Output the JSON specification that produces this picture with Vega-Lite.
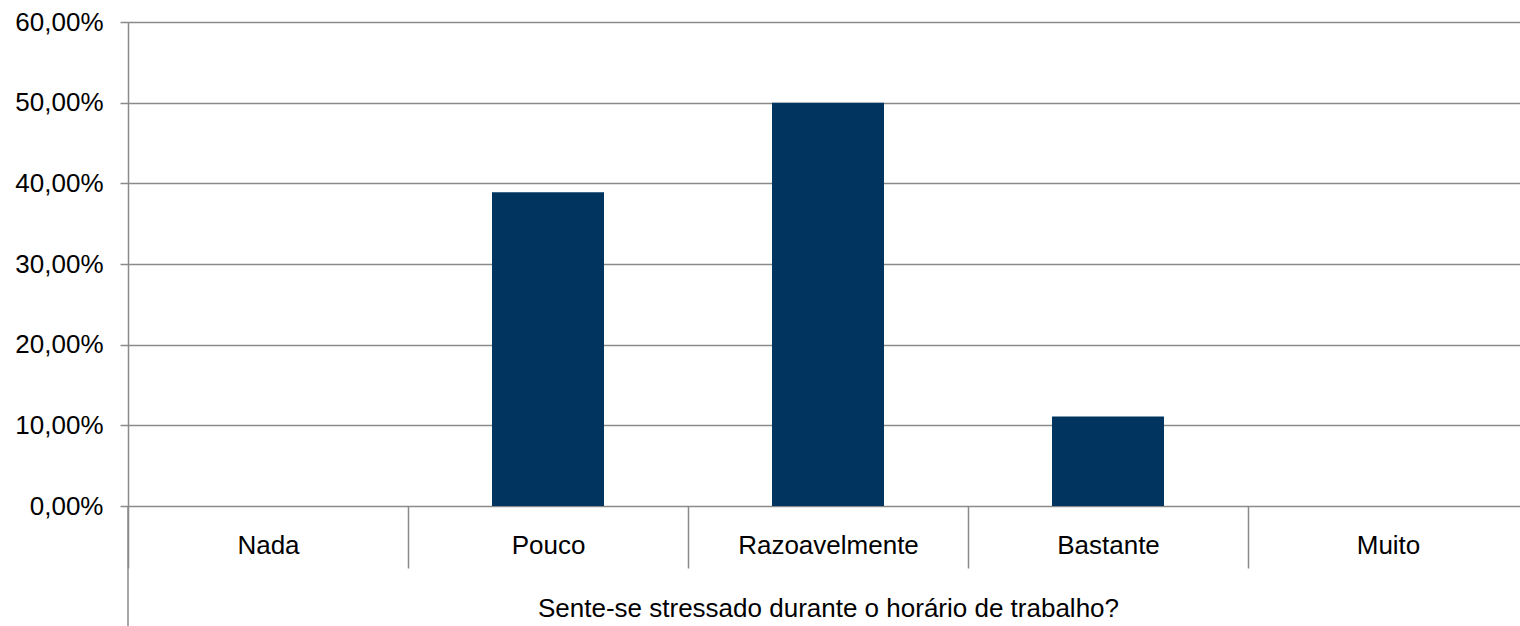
{
  "$schema": "https://vega.github.io/schema/vega-lite/v6.json",
  "width": 1400,
  "height": 484,
  "autosize": {"type": "none"},
  "padding": {"left": 128, "top": 22, "right": 0, "bottom": 120},
  "background": "white",
  "config": {
    "view": {"stroke": null},
    "font": "Liberation Sans"
  },
  "datasets": {
    "bars": [
      {"cat": "Nada", "pct": 0},
      {"cat": "Pouco", "pct": 0.3889},
      {"cat": "Razoavelmente", "pct": 0.5},
      {"cat": "Bastante", "pct": 0.1111},
      {"cat": "Muito", "pct": 0}
    ],
    "edge": [
      {"cat": "Nada", "top": 0, "bottom": -0.16}
    ]
  },
  "layer": [
    {
      "data": {"name": "bars"},
      "mark": {"type": "bar", "width": {"band": 0.4}, "color": "#01345F"},
      "encoding": {
        "x": {
          "field": "cat",
          "type": "nominal",
          "sort": null,
          "scale": {"paddingInner": 0, "paddingOuter": 0},
          "axis": {
            "title": "Sente-se stressado durante o horário de trabalho?",
            "titleFont": "Liberation Sans",
            "titleFontSize": 26,
            "titleFontWeight": "normal",
            "titleColor": "#000000",
            "titleBaseline": "alphabetic",
            "titleY": 110,
            "titleLimit": 1000,
            "labelFont": "Liberation Sans",
            "labelFontSize": 26,
            "labelColor": "#000000",
            "labelAngle": 0,
            "labelBaseline": "alphabetic",
            "labelPadding": -15,
            "labelLimit": 400,
            "tickBand": "extent",
            "tickSize": 62,
            "tickColor": "#8a8a8a",
            "tickWidth": 1.5,
            "domain": false,
            "grid": false
          }
        },
        "y": {
          "field": "pct",
          "type": "quantitative",
          "scale": {"domain": [0, 0.6], "nice": false},
          "axis": {
            "title": null,
            "values": [0, 0.1, 0.2, 0.3, 0.4, 0.5, 0.6],
            "format": ".2%",
            "labelExpr": "replace(datum.label, '.', ',')",
            "labelFont": "Liberation Sans",
            "labelFontSize": 26,
            "labelColor": "#000000",
            "labelPadding": 17,
            "labelLimit": 300,
            "tickSize": 8,
            "tickColor": "#8a8a8a",
            "tickWidth": 1.5,
            "domainColor": "#8a8a8a",
            "domainWidth": 1.5,
            "grid": true,
            "gridColor": "#8a8a8a",
            "gridWidth": 1.5
          }
        }
      }
    },
    {
      "data": {"name": "edge"},
      "mark": {"type": "rule", "color": "#8a8a8a", "strokeWidth": 1.5, "clip": false},
      "encoding": {
        "x": {"field": "cat", "type": "nominal", "sort": null, "bandPosition": 0},
        "y": {"field": "top", "type": "quantitative"},
        "y2": {"field": "bottom"}
      }
    }
  ]
}
